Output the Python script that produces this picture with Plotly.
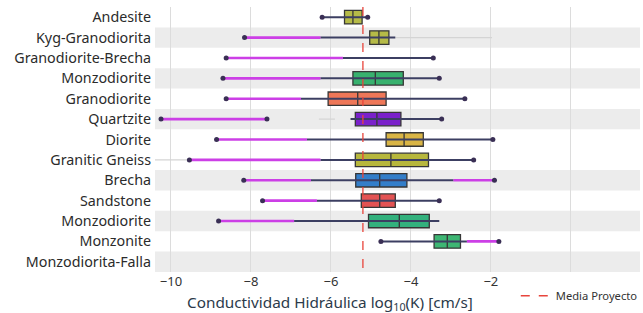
import plotly.graph_objects as go

rocks = ["Andesite", "Kyg-Granodiorita", "Granodiorite-Brecha", "Monzodiorite",
         "Granodiorite", "Quartzite", "Diorite", "Granitic Gneiss", "Brecha",
         "Sandstone", "Monzodiorite", "Monzonite", "Monzodiorita-Falla"]

# box statistics (log10 K)
q1 =     [-5.66, -5.03, None, -5.45, -6.07, -5.39, -4.62, -5.39, -5.38, -5.24, -5.06, -3.42, None]
median = [-5.45, -4.80, None, -4.89, -5.33, -4.85, -4.17, -4.50, -4.78, -4.78, -4.29, -3.09, None]
q3 =     [-5.22, -4.55, None, -4.19, -4.62, -4.25, -3.69, -3.56, -4.10, -4.39, -3.54, -2.76, None]

# dark whisker extents
dark_lo = [-6.22, -6.26, -5.70, -6.26, -6.75, -5.51, -6.60, -6.26, -6.50, -6.35, -6.92, -4.75, None]
dark_hi = [-5.08, -4.39, -3.44, -3.29, -2.65, -3.23, -1.95, -2.43, -2.94, -3.29, -3.29, -2.60, None]

# magenta range extensions (left and right)
mag_left_lo = [None, -8.16, -8.62, -8.70, -8.62, -10.25, -8.86, -9.54, -8.18, -7.71, -8.81, None, None]
mag_left_hi = [None, -6.26, -5.70, -6.26, -6.75, -7.60, -6.60, -6.26, -6.50, -6.35, -6.92, None, None]
mag_right_lo = [None, None, None, None, None, None, None, None, -2.94, None, None, -2.60, None]
mag_right_hi = [None, None, None, None, None, None, None, None, -1.91, None, None, -1.80, None]

# faint grey range traces
grey_lo = [None, -4.39, None, None, None, -6.30, None, -10.40, None, None, None, None, None]
grey_hi = [None, -1.97, None, None, None, -5.90, None, -9.54, None, None, None, None, None]

# end-point markers
dot_lo = [-6.22, -8.16, -8.62, -8.70, -8.62, -10.25, -8.86, -9.54, -8.18, -7.71, -8.81, -4.75, None]
dot_hi = [-5.08, None, -3.44, -3.29, -2.65, -3.23, -1.95, -2.43, -1.91, -3.29, None, -1.80, None]
dot_mid = [None, None, None, None, None, -7.60, None, None, None, None, None, None, None]

box_colors = ["#b3b83f", "#b3b83f", None, "#2fae68", "#ee7050", "#7417c9", "#d8b23c",
              "#b4b432", "#2a79c8", "#e24a4a", "#2aae78", "#33b36c", None]

media_proyecto = -5.2
x_ticks = [-10, -8, -6, -4, -2, 0]
x_ticktext = ["−10", "−8", "−6", "−4", "−2", ""]

fig = go.Figure()

band_rows = [1, 3, 5, 8, 10, 12]
for r in band_rows:
    fig.add_shape(type="rect", xref="paper", x0=0, x1=1, y0=r - 0.5, y1=r + 0.5,
                  fillcolor="#ececec", line=dict(width=0), layer="below")


def segs(lo, hi):
    xs, ys = [], []
    for i, (a, b) in enumerate(zip(lo, hi)):
        if a is None or b is None:
            continue
        xs += [a, b, None]
        ys += [i, i, None]
    return xs, ys


gx, gy = segs(grey_lo, grey_hi)
fig.add_trace(go.Scatter(x=gx, y=gy, mode="lines", line=dict(color="#d4d4d4", width=1.2),
                         showlegend=False, hoverinfo="skip"))

for lo, hi in [(mag_left_lo, mag_left_hi), (mag_right_lo, mag_right_hi)]:
    mx, my = segs(lo, hi)
    fig.add_trace(go.Scatter(x=mx, y=my, mode="lines", line=dict(color="#cc3fe6", width=2.6),
                             showlegend=False, hoverinfo="skip"))

dx, dy = segs(dark_lo, dark_hi)
fig.add_trace(go.Scatter(x=dx, y=dy, mode="lines", line=dict(color="#3c3f62", width=2),
                         showlegend=False, hoverinfo="skip"))

px_, py_ = [], []
for arr in (dot_lo, dot_hi, dot_mid):
    for i, v in enumerate(arr):
        if v is not None:
            px_.append(v)
            py_.append(i)
fig.add_trace(go.Scatter(x=px_, y=py_, mode="markers",
                         marker=dict(color="#3a2f55", size=5), showlegend=False, hoverinfo="skip"))

for i in range(len(rocks)):
    if q1[i] is None:
        continue
    fig.add_trace(go.Box(
        y=[i], q1=[q1[i]], median=[median[i]], q3=[q3[i]],
        lowerfence=[q1[i]], upperfence=[q3[i]], orientation="h",
        fillcolor=box_colors[i], line=dict(color="#2d2d2d", width=1.3),
        width=0.66, whiskerwidth=0, showlegend=False, opacity=0.95, hoverinfo="skip"))

fig.add_trace(go.Scatter(x=[media_proyecto, media_proyecto], y=[-0.5, 12.5], mode="lines",
                         line=dict(color="#e8453c", width=1.3, dash="dash"),
                         name="Media Proyecto", showlegend=True))

fig.add_annotation(text="Conductividad Hidráulica log<sub>10</sub>(K) [cm/s]",
                   xref="paper", yref="paper", x=(331 - 155) / 488, y=0, yshift=-31,
                   xanchor="center", yanchor="middle", showarrow=False,
                   font=dict(size=15.3, color="#2b3a4a"))

fig.update_layout(
    width=643, height=313,
    margin=dict(l=155, r=0, t=7, b=41),
    paper_bgcolor="white", plot_bgcolor="white",
    font=dict(family="Noto Sans", size=12, color="#2b2b2b"),
    xaxis=dict(range=[-10.4, 1.73], tickvals=x_ticks, ticktext=x_ticktext,
               showgrid=True, gridcolor="#dcdcdc", gridwidth=1, zeroline=False,
               showline=False, automargin=False, tickfont=dict(size=13, color="#333")),
    yaxis=dict(range=[12.5, -0.5], tickvals=list(range(len(rocks))), ticktext=rocks,
               showgrid=False, zeroline=False, showline=False, automargin=False,
               ticklabelstandoff=3,
               tickfont=dict(size=14.3, color="#2b2b2b")),
    legend=dict(orientation="h", x=(518 - 155) / 488, y=-0.035, yanchor="top", xanchor="left",
                yref="paper", bgcolor="rgba(0,0,0,0)", font=dict(size=11.2, color="#333"),
                entrywidth=0),
    showlegend=True,
)

fig.write_html("out.html", config={"displayModeBar": False},
               post_script="document.body.style.margin='0';")
